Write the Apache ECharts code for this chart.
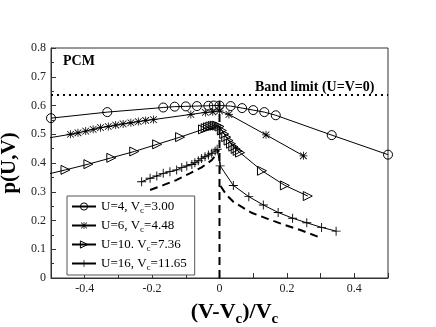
<!DOCTYPE html>
<html>
<head>
<meta charset="utf-8">
<script src="https://cdn.jsdelivr.net/npm/echarts@6/dist/echarts.min.js"></script>
<style>
  html, body { margin: 0; padding: 0; background: #fff; }
  #chart { width: 436px; height: 327px; }
</style>
</head>
<body>
<div id="chart"></div>
<script>
// values
const names = ["U=4, Vc=3.00", "U=6, Vc=4.48", "U=10. Vc=7.36", "U=16, Vc=11.65"];

const u4X = [-0.5, -0.333, -0.167, -0.133, -0.1, -0.067, -0.033, -0.017, 0, 0.033, 0.067, 0.1, 0.133, 0.167, 0.333, 0.5];
const u4P = [0.556, 0.577, 0.593, 0.596, 0.597, 0.598, 0.599, 0.600, 0.600, 0.598, 0.591, 0.584, 0.577, 0.566, 0.497, 0.429];

const u6X = [-0.554, -0.442, -0.420, -0.397, -0.375, -0.353, -0.330, -0.308, -0.286, -0.263, -0.241, -0.219, -0.196, -0.085, -0.042, -0.020, 0, 0.028, 0.138, 0.249];
const u6P = [0.478, 0.500, 0.505, 0.511, 0.517, 0.523, 0.527, 0.532, 0.536, 0.540, 0.544, 0.548, 0.551, 0.569, 0.576, 0.578, 0.581, 0.569, 0.498, 0.425];

const u10X = [-0.525, -0.457, -0.389, -0.321, -0.253, -0.185, -0.117, -0.049, -0.041, -0.034, -0.027, -0.020, -0.014, -0.007, 0, 0.007, 0.014, 0.020, 0.027, 0.034, 0.041, 0.048, 0.054, 0.061, 0.126, 0.194, 0.262];
const u10P = [0.357, 0.376, 0.396, 0.418, 0.440, 0.465, 0.490, 0.517, 0.521, 0.524, 0.527, 0.529, 0.530, 0.530, 0.527, 0.513, 0.501, 0.490, 0.478, 0.467, 0.457, 0.449, 0.442, 0.436, 0.373, 0.322, 0.285];

const u16X = [-0.231, -0.206, -0.186, -0.167, -0.147, -0.127, -0.112, -0.097, -0.082, -0.073, -0.063, -0.053, -0.043, -0.033, -0.023, -0.013, -0.007, 0.002, 0.041, 0.087, 0.130, 0.174, 0.217, 0.259, 0.303, 0.346];
const u16P = [0.335, 0.347, 0.355, 0.364, 0.370, 0.376, 0.384, 0.390, 0.395, 0.401, 0.408, 0.416, 0.422, 0.428, 0.434, 0.442, 0.448, 0.390, 0.322, 0.283, 0.254, 0.228, 0.208, 0.192, 0.176, 0.163];

// dashed curves
const dashLX = [-0.206, -0.167, -0.127, -0.088, -0.053, -0.023, -0.007, -0.002];
const dashLP = [0.306, 0.323, 0.341, 0.364, 0.385, 0.410, 0.434, 0.445];
const dashRX = [0.003, 0.020, 0.041, 0.095, 0.145, 0.190, 0.240, 0.296];
const dashRP = [0.320, 0.290, 0.265, 0.227, 0.205, 0.186, 0.167, 0.142];
const vertX = [0, 0];
const vertP = [0, 0.625];
const bandX = [-0.5, 0.5];
const bandP = [0.6366, 0.6366];

const FONT = "Liberation Serif";
const zip = (xs, ys) => xs.map((x, i) => [x, ys[i]]);

const STAR = "path://M4.5,0 L5.5,0 L5.5,10 L4.5,10 Z M0,4.5 L10,4.5 L10,5.5 L0,5.5 Z M1.2,0.5 L9.5,8.8 L8.8,9.5 L0.5,1.2 Z M8.8,0.5 L9.5,1.2 L1.2,9.5 L0.5,8.8 Z";
const TRI = "path://M0,0 L10,5 L0,10 Z";
const PLUS = "path://M4.5,0 L5.5,0 L5.5,10 L4.5,10 Z M0,4.5 L10,4.5 L10,5.5 L0,5.5 Z";

const hollow = { color: "rgba(255,255,255,0)", borderColor: "#000", borderWidth: 1 };
const solid = { color: "#000", borderWidth: 0 };

function dataSeries(name, xs, ys, symbol, size, filled) {
  return {
    name: name,
    type: "line",
    data: zip(xs, ys),
    symbol: symbol,
    symbolSize: size,
    showAllSymbol: true,
    clip: true,
    z: 3,
    lineStyle: { color: "#000", width: 1 },
    itemStyle: filled ? solid : hollow,
    emphasis: { disabled: true }
  };
}

function plainLine(xs, ys, type, width) {
  return {
    type: "line",
    data: zip(xs, ys),
    symbol: "none",
    z: 2,
    lineStyle: { color: "#000", width: width, type: type },
    emphasis: { disabled: true }
  };
}

const chart = echarts.init(document.getElementById("chart"));

chart.setOption({
  animation: false,
  backgroundColor: "#fff",
  grid: {
    left: 51, right: 48, top: 48, bottom: 49,
    containLabel: false,
    outerBoundsMode: "none",
    show: true, borderColor: "#333", borderWidth: 1
  },
  xAxis: {
    type: "value",
    min: -0.5,
    max: 0.5,
    interval: 0.1,
    name: "{a|(V-V}{s|c}{a|)/V}{s|c}",
    nameLocation: "middle",
    nameGap: 20,
    nameTextStyle: {
      padding: [0, 0, 0, 30],
      rich: {
        a: { fontFamily: FONT, fontWeight: "bold", fontSize: 22, color: "#000" },
        s: { fontFamily: FONT, fontWeight: "bold", fontSize: 15, color: "#000", padding: [14, 0, 0, 0] }
      }
    },
    axisLine: { onZero: false, lineStyle: { color: "#333" } },
    axisTick: { inside: true, length: 5, lineStyle: { color: "#333" } },
    splitLine: { show: false },
    axisLabel: {
      fontFamily: FONT,
      fontSize: 12,
      color: "#222",
      margin: 5,
      formatter: v => (Math.round(v * 10) % 2 === 0 ? String(+v.toFixed(1)) : "")
    }
  },
  yAxis: {
    type: "value",
    min: 0,
    max: 0.8,
    interval: 0.1,
    name: "p(U,V)",
    nameLocation: "middle",
    nameGap: 22,
    nameTextStyle: { fontFamily: FONT, fontWeight: "bold", fontSize: 21, color: "#000" },
    axisLine: { show: true, onZero: false, lineStyle: { color: "#333" } },
    axisTick: { show: true, inside: true, length: 5, lineStyle: { color: "#333" } },
    minorTick: { show: true, splitNumber: 2, length: 3, lineStyle: { color: "#333" } },
    splitLine: { show: false },
    axisLabel: {
      fontFamily: FONT,
      fontSize: 12,
      color: "#222",
      margin: 5,
      formatter: v => String(+v.toFixed(1))
    }
  },
  legend: {
    data: [
      { name: names[0], itemStyle: hollow },
      { name: names[1], itemStyle: solid },
      { name: names[2], itemStyle: hollow },
      { name: names[3], itemStyle: solid }
    ],
    orient: "vertical",
    left: 67,
    top: 196,
    padding: [4, 8, 3, 4],
    itemGap: 4,
    itemWidth: 24,
    itemHeight: 9,
    borderColor: "#555",
    borderWidth: 1,
    borderRadius: 0,
    backgroundColor: "#fff",
    selectedMode: false,
    formatter: name => {
      const parts = name.split("Vc");
      return "{a|" + parts[0] + "V}{s|c}{a|" + parts[1] + "}";
    },
    textStyle: {
      rich: {
        a: { fontFamily: FONT, fontSize: 13, color: "#000" },
        s: { fontFamily: FONT, fontSize: 9, color: "#000", padding: [8, 0, 0, 0] }
      }
    }
  },
  graphic: [
    { type: "text", left: 63, top: 54, style: { text: "PCM", fontFamily: FONT, fontWeight: "bold", fontSize: 14, fill: "#000" } },
    { type: "text", left: 255, top: 80, style: { text: "Band limit (U=V=0)", fontFamily: FONT, fontWeight: "bold", fontSize: 14, fill: "#000" } }
  ],
  series: [
    plainLine(bandX, bandP, [2, 4], 2),
    plainLine(vertX, vertP, [8, 5], 2),
    plainLine(dashLX, dashLP, [8, 5], 2),
    plainLine(dashRX, dashRP, [8, 5], 2),
    dataSeries(names[0], u4X, u4P, "circle", 9, false),
    dataSeries(names[1], u6X, u6P, STAR, 8, true),
    dataSeries(names[2], u10X, u10P, TRI, 9, false),
    dataSeries(names[3], u16X, u16P, PLUS, 9, true)
  ]
});
</script>
</body>
</html>
